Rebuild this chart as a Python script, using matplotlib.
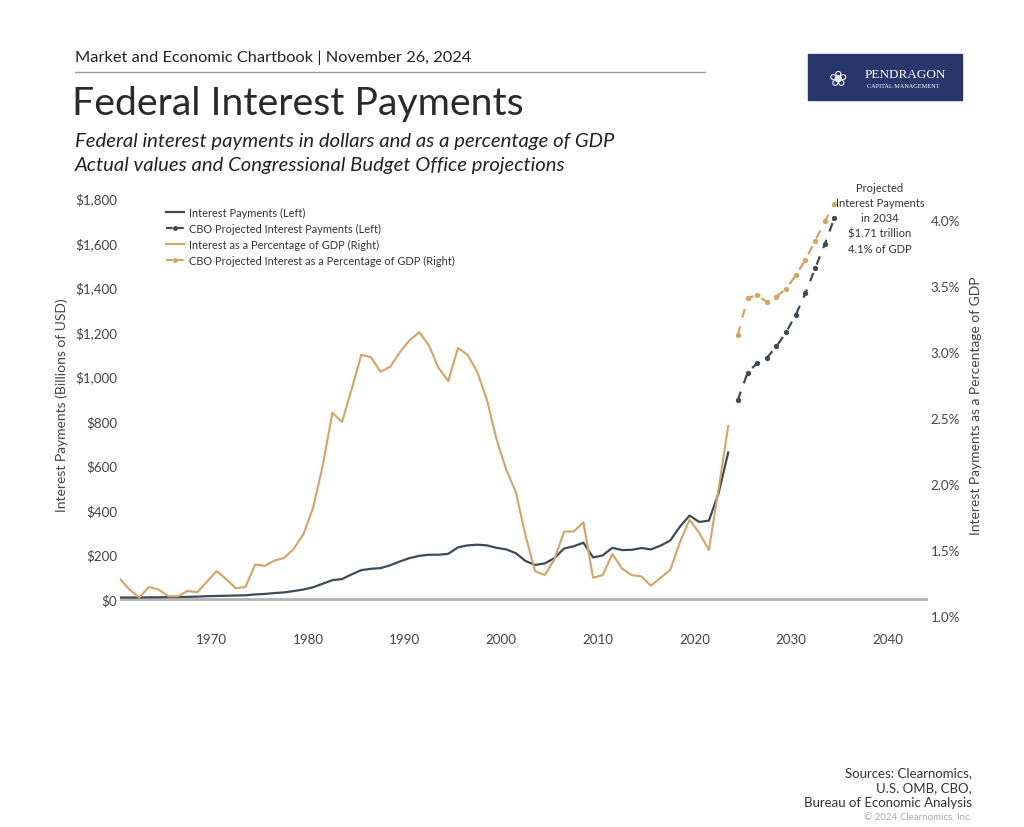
import numpy as np
import matplotlib
matplotlib.use("Agg")
import matplotlib.pyplot as plt
from matplotlib.patches import Rectangle
from matplotlib.lines import Line2D

# ---- data (fiscal years) ----
years = np.arange(1960, 2024)
interest_bn = [7, 7, 7, 8, 8, 9, 9, 10, 11, 13,
               14, 15, 16, 17, 21, 23, 27, 30, 36, 43,
               53, 69, 85, 90, 111, 130, 136, 139, 152, 169,
               184, 194, 199, 199, 203, 232, 241, 244, 241, 230,
               223, 206, 171, 153, 160, 184, 227, 237, 253, 187,
               196, 230, 220, 221, 229, 223, 240, 263, 325, 375,
               346, 352, 475, 658]
interest_pct = [1.28, 1.20, 1.14, 1.22, 1.20, 1.15, 1.15, 1.19, 1.18, 1.26,
                1.34, 1.28, 1.21, 1.22, 1.39, 1.38, 1.42, 1.44, 1.51, 1.62,
                1.82, 2.14, 2.54, 2.47, 2.72, 2.98, 2.96, 2.85, 2.89, 3.00,
                3.09, 3.15, 3.05, 2.88, 2.78, 3.03, 2.98, 2.85, 2.64, 2.34,
                2.11, 1.94, 1.61, 1.34, 1.31, 1.43, 1.64, 1.64, 1.71, 1.29,
                1.31, 1.47, 1.36, 1.31, 1.30, 1.23, 1.29, 1.35, 1.56, 1.73,
                1.63, 1.50, 1.96, 2.44]

proj_years = np.arange(2024, 2035)
proj_bn = [893, 1015, 1059, 1082, 1134, 1197, 1276, 1372, 1484, 1592, 1710]
proj_pct = [3.13, 3.41, 3.43, 3.38, 3.42, 3.48, 3.58, 3.70, 3.84, 3.99, 4.12]

left_ticks = np.arange(0, 1801, 200)
right_ticks = np.arange(1.0, 4.01, 0.5)
x_ticks = [1970, 1980, 1990, 2000, 2010, 2020, 2030, 2040]

# points sit mid-year on the time axis
mid = 0.5

DARK = "#3e4b57"
TAN = "#d9a264"
GREY = "#444444"

plt.rcParams['font.family'] = ['Lato', 'DejaVu Sans']

fig = plt.figure(figsize=(10.24, 8.28), dpi=100)
fig.patch.set_facecolor("white")

ax = fig.add_axes([0.1172, 0.2548, 0.7891, 0.5109])
ax2 = ax.twinx()

ax.plot(years + mid, interest_bn, color=DARK, lw=1.6, zorder=3)
ax.plot(proj_years + mid, proj_bn, color=DARK, lw=1.6, ls=(0, (4, 4)),
        marker='o', ms=2.8, zorder=3)
ax2.plot(years + mid, interest_pct, color=TAN, lw=1.5, zorder=2)
ax2.plot(proj_years + mid, proj_pct, color=TAN, lw=1.6, ls=(0, (4, 4)),
         marker='o', ms=2.8, zorder=2)

ax.axhline(0, color="#b3b3b3", lw=2, zorder=1)

ax.set_xlim(1960.5, 2044.2)
ax.set_ylim(-76, 1822)
ax2.set_ylim(1.0, 4.205)

ax.set_xticks(x_ticks)
ax.set_yticks(left_ticks)
ax.set_yticklabels(["${:,.0f}".format(v) for v in left_ticks])
ax2.set_yticks(right_ticks)
ax2.set_yticklabels(["{:.1f}%".format(v) for v in right_ticks])

for a in (ax, ax2):
    for s in a.spines.values():
        s.set_visible(False)
    a.tick_params(length=0, colors=GREY, labelsize=9.6)
ax.tick_params(axis='x', pad=12)
ax.tick_params(axis='y', pad=2)
ax2.tick_params(axis='y', pad=2)

ax.set_ylabel("Interest Payments (Billions of USD)", color=GREY, fontsize=10, labelpad=5)
ax2.set_ylabel("Interest Payments as a Percentage of GDP", color=GREY, fontsize=10, labelpad=7)

handles = [
    Line2D([], [], color=DARK, lw=1.6),
    Line2D([], [], color=DARK, lw=1.6, ls=(0, (3, 2)), marker='o', ms=2.5),
    Line2D([], [], color=TAN, lw=1.5),
    Line2D([], [], color=TAN, lw=1.6, ls=(0, (3, 2)), marker='o', ms=2.5),
]
labels = ["Interest Payments (Left)",
          "CBO Projected Interest Payments (Left)",
          "Interest as a Percentage of GDP (Right)",
          "CBO Projected Interest as a Percentage of GDP (Right)"]
ax.legend(handles, labels, loc='upper left', bbox_to_anchor=(0.045, 0.99),
          frameon=False, fontsize=7.9, handlelength=1.6, handletextpad=0.5,
          labelspacing=0.45, labelcolor="#333333")

ax2.annotate("Projected\nInterest Payments\nin 2034\n$1.71 trillion\n4.1% of GDP",
             xy=(proj_years[-1] + mid, proj_pct[-1]), xytext=(880, 828 - 219),
             textcoords='figure pixels', xycoords='data',
             ha='center', va='center', fontsize=8, color="#333333",
             linespacing=1.45)

# ---- header ----
fig.text(75 / 1024, 1 - 58 / 828, "Market and Economic Chartbook | November 26, 2024",
         fontsize=11.8, color="#222222", va='center')
fig.add_artist(Line2D([75 / 1024, 705 / 1024], [1 - 73 / 828, 1 - 73 / 828],
                      color="#9a9a9a", lw=1))
fig.text(72 / 1024, 1 - 104 / 828, "Federal Interest Payments",
         fontsize=28.3, color="#2a2a2a", va='center')
fig.text(75 / 1024, 1 - 142 / 828, "Federal interest payments in dollars and as a percentage of GDP",
         fontsize=14.6, color="#222222", va='center', style='italic')
fig.text(75 / 1024, 1 - 165 / 828, "Actual values and Congressional Budget Office projections",
         fontsize=14.6, color="#222222", va='center', style='italic')

# logo box
fig.add_artist(Rectangle((808 / 1024, 1 - 101 / 828), 154 / 1024, 46 / 828,
                         transform=fig.transFigure, color="#28376b"))
fig.text(905 / 1024, 1 - 75 / 828, "PENDRAGON", fontsize=9.5, color="white",
         family=['Liberation Serif', 'DejaVu Serif'], ha='center', va='center')
fig.text(903 / 1024, 1 - 87 / 828, "CAPITAL MANAGEMENT", fontsize=4.5, color="white",
         family=['Liberation Serif', 'DejaVu Serif'], ha='center', va='center')
fig.text(838 / 1024, 1 - 80 / 828, "\u2740", fontsize=16, color="#e8e8e8",
         ha='center', va='center', family=['DejaVu Sans'])

# ---- footer ----
fig.text(972 / 1024, 1 - 788 / 828,
         "Sources: Clearnomics,\nU.S. OMB, CBO,\nBureau of Economic Analysis",
         fontsize=9.5, color="#333333", ha='right', va='center', linespacing=1.3)
fig.text(972 / 1024, 1 - 818 / 828, "\u00a9 2024 Clearnomics, Inc.",
         fontsize=7, color="#aaaaaa", ha='right', va='center')

fig.savefig("out.png", dpi=100, facecolor="white")
